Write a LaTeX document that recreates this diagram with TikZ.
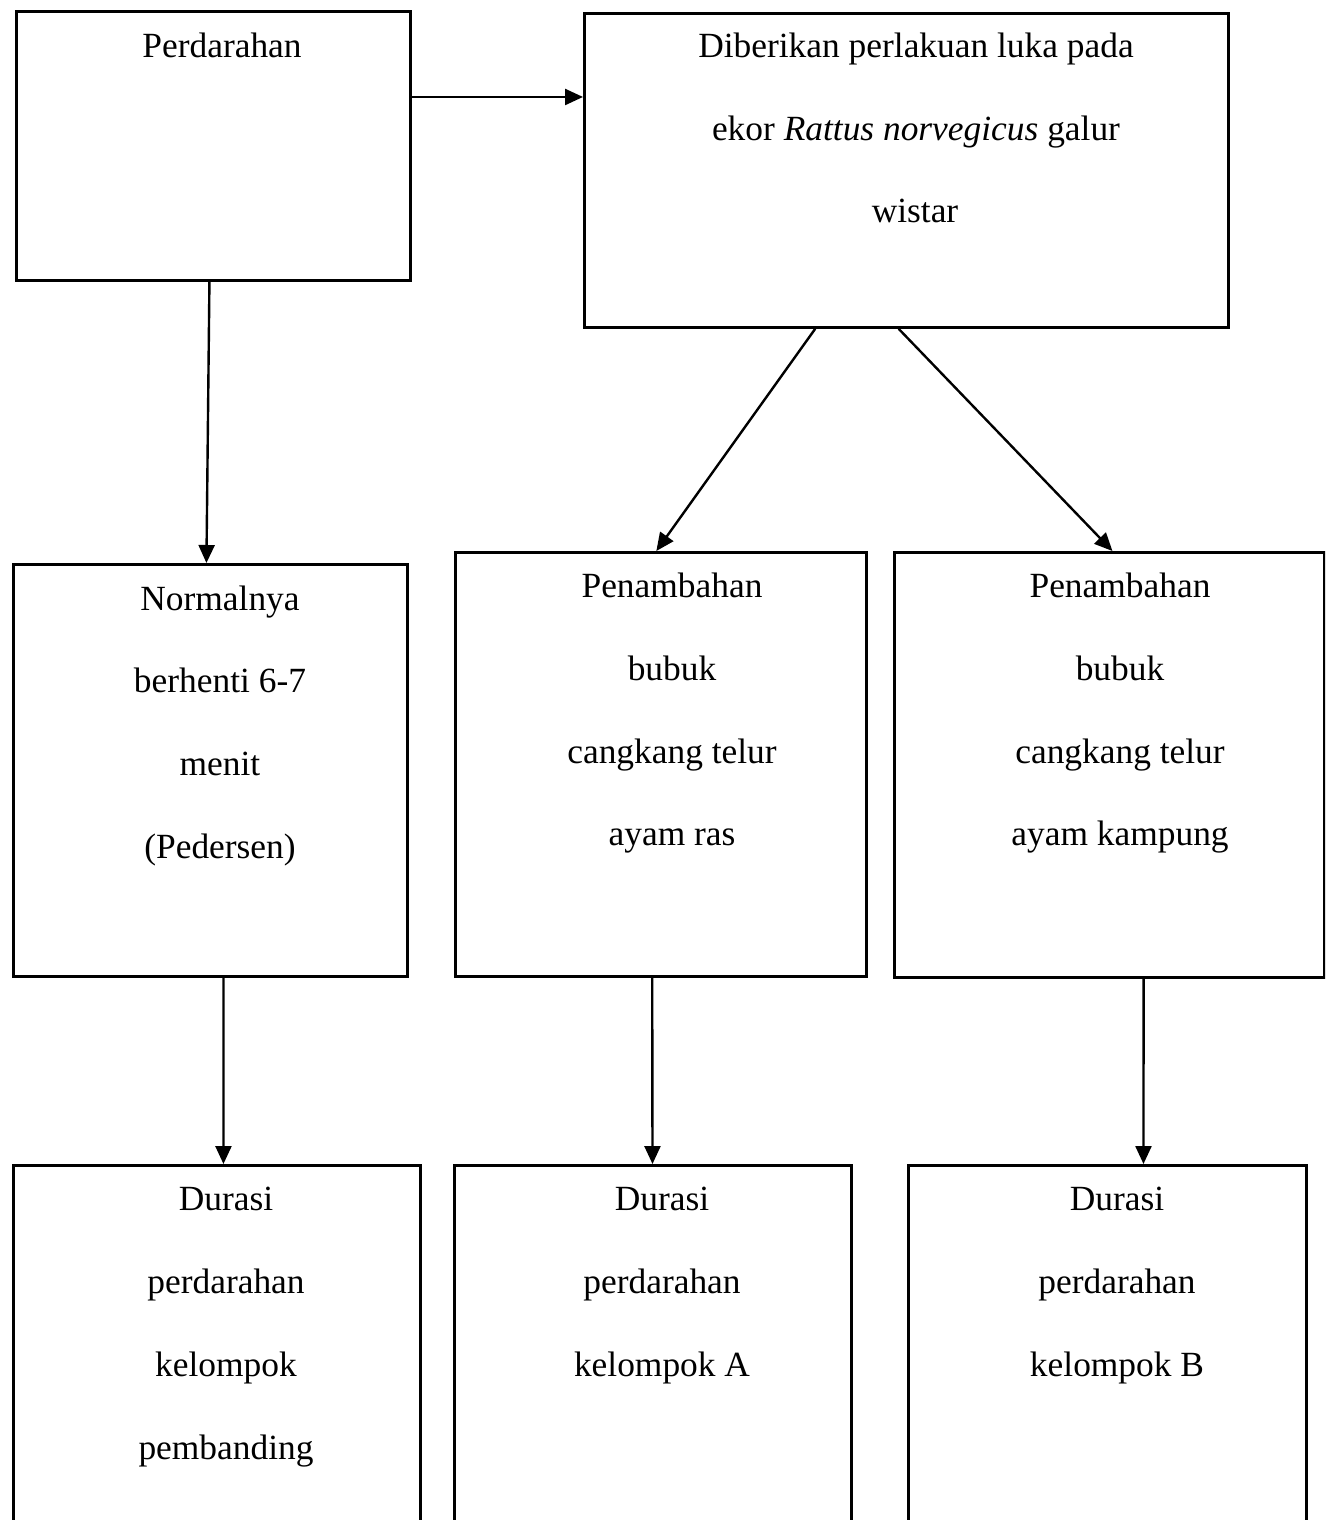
\documentclass[tikz,border=0pt]{standalone}
\usepackage{fontspec}
\setmainfont{Liberation Serif}
\usetikzlibrary{arrows.meta,calc}
\begin{document}
\begin{tikzpicture}[x=1pt,y=-1pt,
  boxst/.style={draw,line width=2.8pt,inner sep=0pt,anchor=north west},
  arr/.style={line width=2.4pt,-{Triangle[length=18pt,width=16pt]}},
  txt/.style={anchor=base,inner sep=0pt,font=\fontsize{35.4}{42}\selectfont}]
\useasboundingbox (0,0) rectangle (1325,1520);
\clip (0,0) rectangle (1325,1520);
% boxes
\node[boxst,minimum width=394pt,minimum height=269pt] (P) at (15,10) {};
\node[boxst,minimum width=644pt,minimum height=314pt] (D) at (583,12) {};
\node[boxst,minimum width=394pt,minimum height=412pt] (N) at (12,563) {};
\node[boxst,minimum width=411pt,minimum height=424pt] (R) at (454,551) {};
\node[boxst,minimum width=430pt,minimum height=425pt] (K) at (893,551) {};
\node[boxst,minimum width=407pt,minimum height=380pt] (D1) at (12,1164) {};
\node[boxst,minimum width=397pt,minimum height=380pt] (DA) at (453,1164) {};
\node[boxst,minimum width=398pt,minimum height=380pt] (DB) at (907,1164) {};
% texts
\node[txt] (tP) at (222,57) {Perdarahan};
\node[txt] (tD1) at (916,58) {Diberikan perlakuan luka pada};
\node[txt] (tD2) at (916,140) {ekor \textit{Rattus norvegicus} galur};
\node[txt] (tD3) at (915,222) {wistar};
\node[txt] (tN1) at (220,610) {Normalnya};
\node[txt] (tN2) at (220,692) {berhenti 6-7};
\node[txt] (tN3) at (220,775) {menit};
\node[txt] (tN4) at (220,858) {(Pedersen)};
\node[txt] (tR1) at (672,597) {Penambahan};
\node[txt] (tR2) at (672,680) {bubuk};
\node[txt] (tR3) at (672,763) {cangkang telur};
\node[txt] (tR4) at (672,845) {ayam ras};
\node[txt] (tK1) at (1120,597) {Penambahan};
\node[txt] (tK2) at (1120,680) {bubuk};
\node[txt] (tK3) at (1120,763) {cangkang telur};
\node[txt] (tK4) at (1120,845) {ayam kampung};
\node[txt] (tE1) at (226,1210) {Durasi};
\node[txt] (tE2) at (226,1293) {perdarahan};
\node[txt] (tE3) at (226,1376) {kelompok};
\node[txt] (tE4) at (226,1459) {pembanding};
\node[txt] (tA1) at (662,1210) {Durasi};
\node[txt] (tA2) at (662,1293) {perdarahan};
\node[txt] (tA3) at (662,1376) {kelompok A};
\node[txt] (tB1) at (1117,1210) {Durasi};
\node[txt] (tB2) at (1117,1293) {perdarahan};
\node[txt] (tB3) at (1117,1376) {kelompok B};
% arrows
\draw[arr] ($(P.north east)!0.32!(P.south east)$) coordinate (a1) -- (a1 -| D.west);
\draw[arr] ($(P.south west)!0.49!(P.south east)$) -- ($(N.north west)!0.49!(N.north east)$);
\draw[arr] ($(D.south west)!0.359!(D.south east)$) -- ($(R.north west)!0.489!(R.north east)$);
\draw[arr] ($(D.south west)!0.488!(D.south east)$) -- ($(K.north west)!0.507!(K.north east)$);
\draw[arr] ($(N.south west)!0.533!(N.south east)$) -- ($(D1.north west)!0.516!(D1.north east)$);
\draw[arr] ($(R.south west)!0.479!(R.south east)$) -- ($(DA.north west)!0.499!(DA.north east)$);
\draw[arr] ($(K.south west)!0.579!(K.south east)$) -- ($(DB.north west)!0.590!(DB.north east)$);
\end{tikzpicture}
\end{document}
